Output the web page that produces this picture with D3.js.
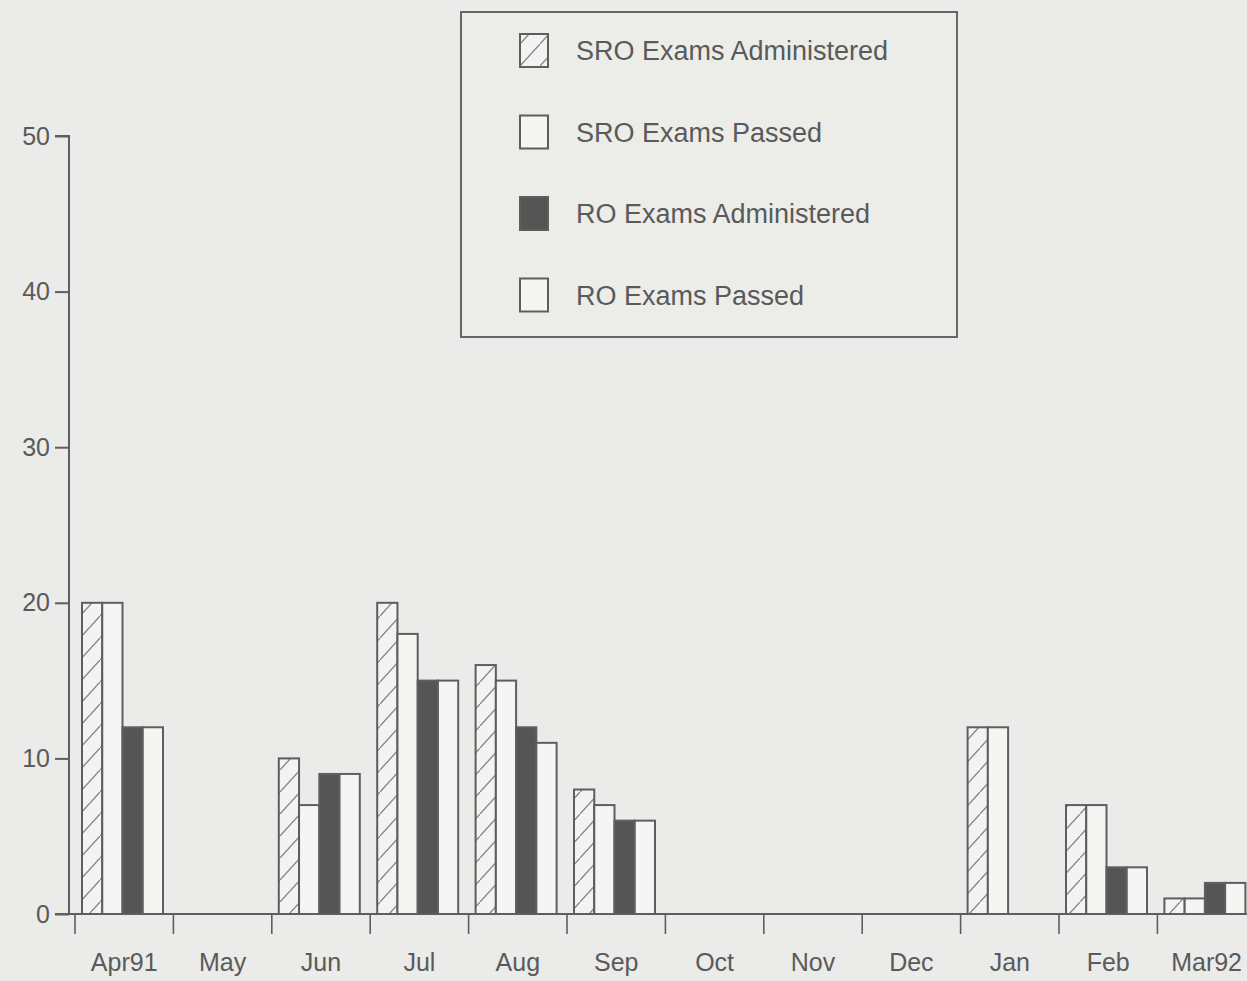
<!DOCTYPE html>
<html>
<head>
<meta charset="utf-8">
<script src="https://cdn.jsdelivr.net/npm/d3@7"></script>
<style>
  html, body { margin: 0; padding: 0; background: #ebebe9; }
  svg { display: block; }
  text { font-family: "Liberation Sans", Arial, sans-serif; fill: #5a5a5a; }
</style>
</head>
<body>
<svg id="chart" width="1247" height="981"></svg>
<script>
const months = ["Apr91","May","Jun","Jul","Aug","Sep","Oct","Nov","Dec","Jan","Feb","Mar92"];
const seriesNames = ["SRO Exams Administered","SRO Exams Passed","RO Exams Administered","RO Exams Passed"];
const sroAdministered = [20, 0, 10, 20, 16, 8, 0, 0, 0, 12, 7, 1];
const sroPassed       = [20, 0,  7, 18, 15, 7, 0, 0, 0, 12, 7, 1];
const roAdministered  = [12, 0,  9, 15, 12, 6, 0, 0, 0,  0, 3, 2];
const roPassed        = [12, 0,  9, 15, 11, 6, 0, 0, 0,  0, 3, 2];
const yTicks = [0, 10, 20, 30, 40, 50];

const seriesValues = [sroAdministered, sroPassed, roAdministered, roPassed];

const svg = d3.select("#chart");
const defs = svg.append("defs");
const pat = defs.append("pattern")
  .attr("id", "hatch").attr("patternUnits", "userSpaceOnUse")
  .attr("width", 20).attr("height", 22);
pat.append("rect").attr("width", 20).attr("height", 22).attr("fill", "#f3f3f1");
pat.append("path").attr("d", "M-2,24.2 L22,-2.2").attr("stroke", "#858585").attr("stroke-width", 1.3);

const fills = ["url(#hatch)", "#f5f5f3", "#555555", "#f5f5f3"];

const yAxisX = 69;
const y = d3.scaleLinear().domain([0, 50]).range([914, 136]);
const x0 = d3.scaleBand().domain(months).range([75, 75 + 12 * 98.4]).padding(0);
const x1 = d3.scaleBand().domain(d3.range(4)).range([7, 88]).padding(0);

// bars
const g = svg.append("g");
months.forEach((m, i) => {
  seriesValues.forEach((vals, s) => {
    const v = vals[i];
    if (v <= 0) return;
    g.append("rect")
      .attr("x", x0(m) + x1(s))
      .attr("y", y(v))
      .attr("width", x1.bandwidth())
      .attr("height", y(0) - y(v))
      .attr("fill", fills[s])
      .attr("stroke", "#5e5e5e")
      .attr("stroke-width", 2);
  });
});

// y axis
const yAxis = d3.axisLeft(y).tickValues(yTicks).tickSize(14).tickPadding(5);
const yg = svg.append("g").attr("transform", `translate(${yAxisX},0)`).call(yAxis);
yg.select(".domain").attr("stroke", "#5e5e5e").attr("stroke-width", 2)
  .attr("d", `M-14,${y(50)}H0V${y(0)}`);
yg.selectAll(".tick line").attr("stroke", "#5e5e5e").attr("stroke-width", 2);
yg.selectAll(".tick text").attr("font-size", 25).attr("fill", "#5a5a5a")
  .style("font-family", "'Liberation Sans', Arial, sans-serif");

// x axis
const xAxis = d3.axisBottom(x0).tickSize(0).tickPadding(0);
const xg = svg.append("g").attr("transform", `translate(0,${y(0)})`).call(xAxis);
xg.select(".domain").attr("stroke", "#5e5e5e").attr("stroke-width", 2)
  .attr("d", `M${yAxisX - 14},0H1247`);
xg.selectAll(".tick text").attr("font-size", 25).attr("fill", "#5a5a5a")
  .attr("dy", null).attr("y", 57)
  .style("font-family", "'Liberation Sans', Arial, sans-serif");
// boundary ticks
xg.selectAll(".bound").data(months).enter().append("line")
  .attr("class", "bound")
  .attr("x1", d => x0(d)).attr("x2", d => x0(d))
  .attr("y1", 0).attr("y2", 20)
  .attr("stroke", "#5e5e5e").attr("stroke-width", 1.6);

// legend
const lg = svg.append("g");
lg.append("rect").attr("x", 461).attr("y", 12).attr("width", 496).attr("height", 325)
  .attr("fill", "#ecece9").attr("stroke", "#666").attr("stroke-width", 2);
seriesNames.forEach((name, i) => {
  const cy = 50 + i * 81.5;
  lg.append("rect").attr("x", 520).attr("y", cy - 16).attr("width", 28).attr("height", 33)
    .attr("fill", fills[i]).attr("stroke", "#5e5e5e").attr("stroke-width", 2);
  lg.append("text").attr("x", 576).attr("y", cy + 10).attr("font-size", 27)
    .attr("fill", "#5a5a5a").text(name);
});
</script>
</body>
</html>
